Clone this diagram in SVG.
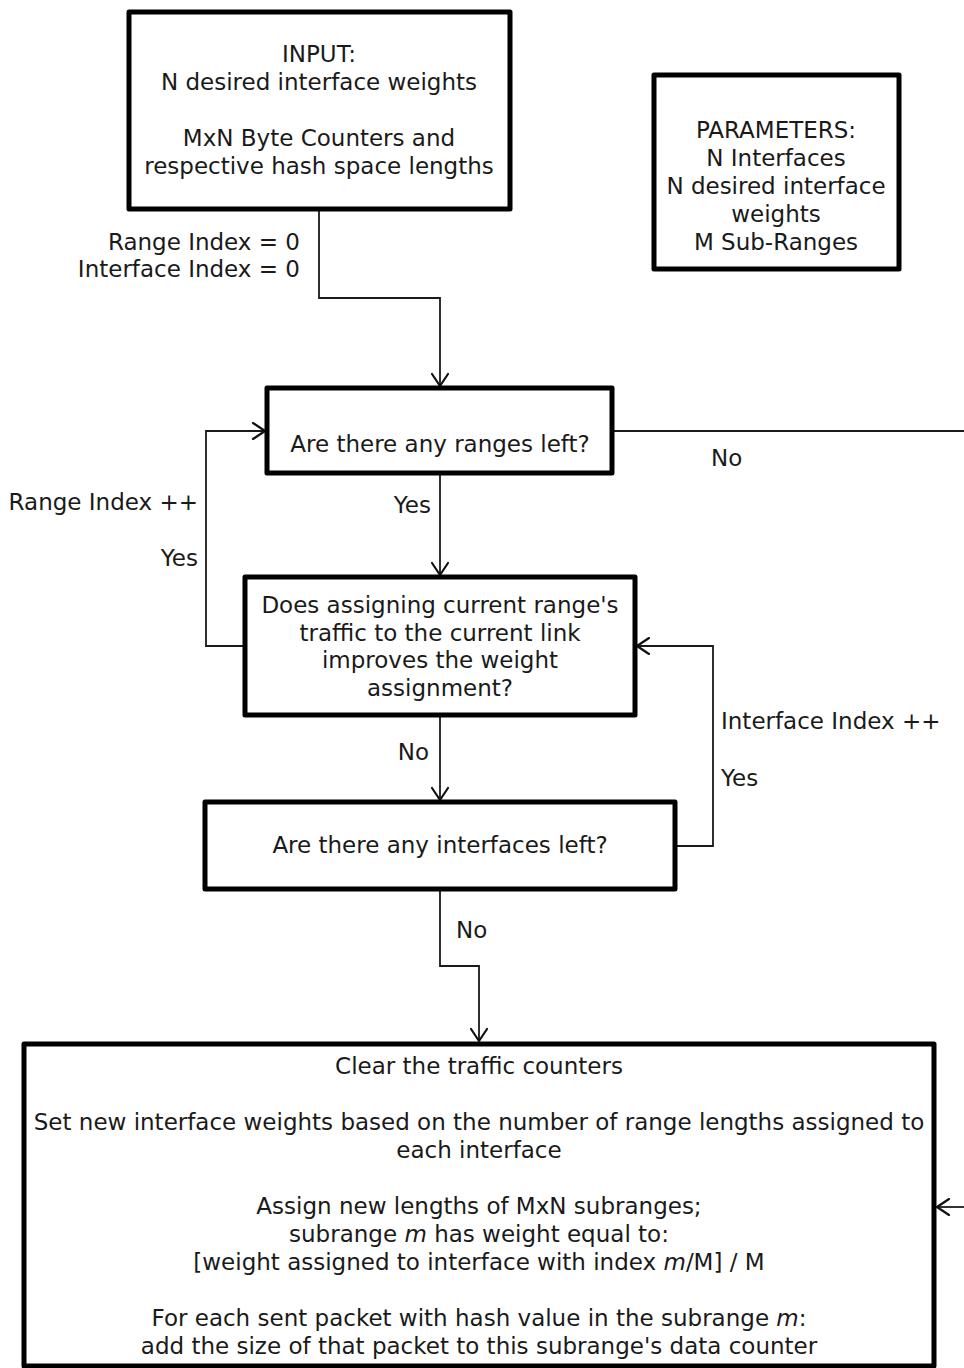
<svg xmlns="http://www.w3.org/2000/svg" width="964" height="1368" viewBox="0 0 964 1368">
  <defs>
    <marker id="arrow" markerUnits="userSpaceOnUse" markerWidth="18" markerHeight="18" viewBox="-14 -9 18 18" refX="0" refY="0" orient="auto">
      <path d="M -12 -8 L 0 0 L -12 8" fill="none" stroke="#111" stroke-width="2.2" stroke-linecap="round" stroke-linejoin="round"/>
    </marker>
    <style>
      .box { fill: #fff; stroke: #000; stroke-width: 5; stroke-linejoin: round; }
      .wire { fill: none; stroke: #1a1a1a; stroke-width: 1.8; }
      text { font-family: "DejaVu Sans", "Liberation Sans", sans-serif; font-size: 23px; fill: #1a1a1a; }
      .c { text-anchor: middle; }
      .r { text-anchor: end; }
    </style>
  </defs>

  <rect width="964" height="1368" fill="#fff"/>

  <!-- connectors -->
  <g id="connectors">
    <path class="wire" d="M 319 211 L 319 298 L 440 298 L 440 386" marker-end="url(#arrow)"/>
    <path class="wire" d="M 613 431 L 964 431"/>
    <path class="wire" d="M 440 474 L 440 575" marker-end="url(#arrow)"/>
    <path class="wire" d="M 244 646 L 206 646 L 206 431 L 265 431" marker-end="url(#arrow)"/>
    <path class="wire" d="M 440 716 L 440 800" marker-end="url(#arrow)"/>
    <path class="wire" d="M 676 846 L 713 846 L 713 646 L 637 646" marker-end="url(#arrow)"/>
    <path class="wire" d="M 440 890 L 440 966 L 479 966 L 479 1041" marker-end="url(#arrow)"/>
    <path class="wire" d="M 964 1207 L 937 1207" marker-end="url(#arrow)"/>

    <text class="r" x="300" y="250">Range Index = 0</text>
    <text class="r" x="300" y="277">Interface Index = 0</text>
    <text x="711" y="466">No</text>
    <text class="r" x="431" y="513">Yes</text>
    <text class="r" x="198" y="510">Range Index ++</text>
    <text class="r" x="198" y="566">Yes</text>
    <text class="r" x="429" y="760">No</text>
    <text x="721" y="729">Interface Index ++</text>
    <text x="721" y="786">Yes</text>
    <text x="456" y="938">No</text>
  </g>

  <!-- input -->
  <g id="input">
    <rect class="box" x="129" y="12" width="381" height="197"/>
    <text class="c" x="319" y="62">INPUT:</text>
    <text class="c" x="319" y="90">N desired interface weights</text>
    <text class="c" x="319" y="146">MxN Byte Counters and</text>
    <text class="c" x="319" y="174">respective hash space lengths</text>
  </g>

  <!-- parameters -->
  <g id="parameters">
    <rect class="box" x="654" y="75" width="245" height="194"/>
    <text class="c" x="776" y="138">PARAMETERS:</text>
    <text class="c" x="776" y="166">N Interfaces</text>
    <text class="c" x="776" y="194">N desired interface</text>
    <text class="c" x="776" y="222">weights</text>
    <text class="c" x="776" y="250">M Sub-Ranges</text>
  </g>

  <!-- ranges left? -->
  <g id="ranges-left">
    <rect class="box" x="267" y="388" width="345" height="85"/>
    <text class="c" x="440" y="452">Are there any ranges left?</text>
  </g>

  <!-- assignment test -->
  <g id="improves">
    <rect class="box" x="245" y="577" width="390" height="138"/>
    <text class="c" x="440" y="613">Does assigning current range's</text>
    <text class="c" x="440" y="641">traffic to the current link</text>
    <text class="c" x="440" y="668">improves the weight</text>
    <text class="c" x="440" y="696">assignment?</text>
  </g>

  <!-- interfaces left? -->
  <g id="interfaces-left">
    <rect class="box" x="205" y="802" width="470" height="87"/>
    <text class="c" x="440" y="853">Are there any interfaces left?</text>
  </g>

  <!-- update step -->
  <g id="update">
    <rect class="box" x="24" y="1044" width="910" height="322"/>
    <text class="c" x="479" y="1074">Clear the traffic counters</text>
    <text class="c" x="479" y="1130">Set new interface weights based on the number of range lengths assigned to</text>
    <text class="c" x="479" y="1158">each interface</text>
    <text class="c" x="479" y="1214">Assign new lengths of MxN subranges;</text>
    <text class="c" x="479" y="1242">subrange <tspan font-style="italic">m</tspan> has weight equal to:</text>
    <text class="c" x="479" y="1270">[weight assigned to interface with index <tspan font-style="italic">m</tspan>/M] / M</text>
    <text class="c" x="479" y="1326">For each sent packet with hash value in the subrange <tspan font-style="italic">m</tspan>:</text>
    <text class="c" x="479" y="1354">add the size of that packet to this subrange's data counter</text>
  </g>
</svg>
